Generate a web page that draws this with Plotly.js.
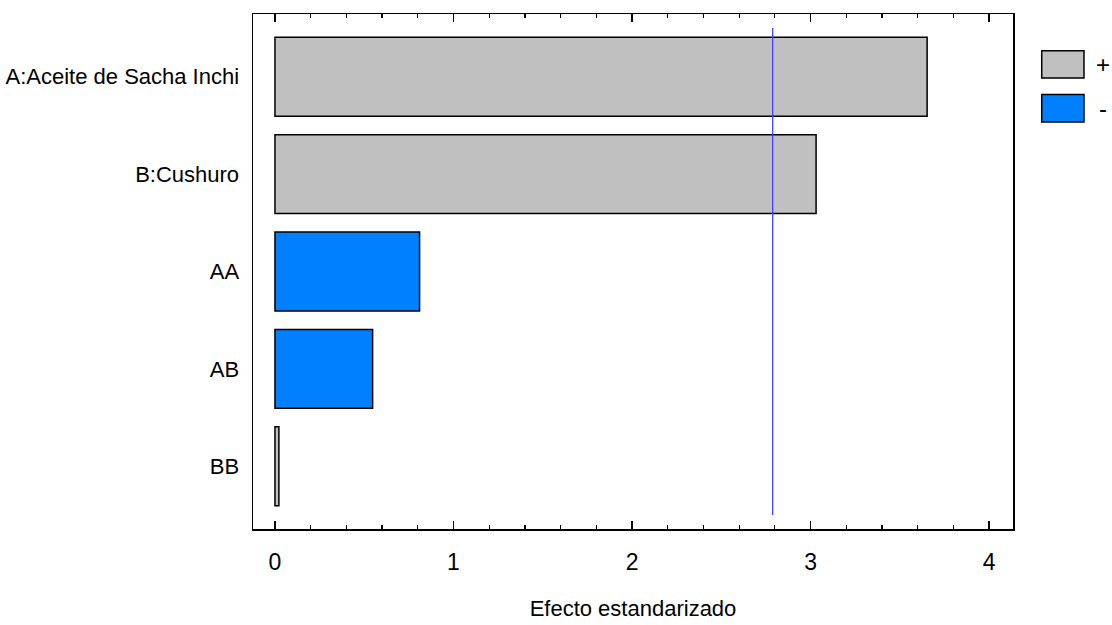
<!DOCTYPE html>
<html>
<head>
<meta charset="utf-8">
<script src="https://cdn.plot.ly/plotly-3.0.1.min.js"></script>
<style>html,body{margin:0;padding:0;background:#fff}#chart{width:1112px;height:625px}</style>
</head>
<body>
<div id="chart"></div>
<script>
var categories = ["A:Aceite de Sacha Inchi", "B:Cushuro", "AA", "AB", "BB"];
var effects = [3.653, 3.031, 0.81, 0.547, 0.022];
var signs = ["+", "+", "-", "-", "+"];
var criticalValue = 2.788;
var xTickVals = [0, 1, 2, 3, 4];
var legendLabels = ["+", "-"];

var posColor = "#c0c0c0", negColor = "#0080ff";
var FONT = "'Liberation Sans Narrow', 'Arial Narrow', 'Liberation Sans', Arial, sans-serif";
var idx = categories.map(function(_, i){ return i; });

var trace = {
  type: "bar", orientation: "h",
  x: effects, y: idx,
  width: 0.81,
  marker: {
    color: signs.map(function(s){ return s === "+" ? posColor : negColor; }),
    line: {color: "#000", width: 1.5}
  },
  hoverinfo: "x+text", text: categories, textposition: "none",
  showlegend: false
};

var layout = {
  width: 1112, height: 625,
  margin: {l: 253, r: 99, t: 14, b: 96},
  paper_bgcolor: "#fff", plot_bgcolor: "#fff",
  font: {family: FONT, size: 22, color: "#000"},
  showlegend: false,
  xaxis: {
    range: [-0.123, 4.134],
    tickvals: xTickVals, ticktext: xTickVals.map(String),
    ticks: "inside", ticklen: 8, tickwidth: 1.5, tickcolor: "#000",
    minor: {dtick: 0.2, tick0: 0, ticks: "inside", ticklen: 4, tickwidth: 1.2, tickcolor: "#000", showgrid: false},
    showgrid: false, zeroline: false,
    showline: true, linecolor: "#000", linewidth: 1.5, mirror: "allticks",
    tickfont: {family: FONT, size: 23, color: "#000"},
    ticklabelstandoff: 12,
    title: {text: "Efecto estandarizado", font: {family: FONT, size: 22, color: "#000"}, standoff: 26}
  },
  yaxis: {
    range: [4.645, -0.645],
    tickvals: idx, ticktext: categories,
    ticks: "", showgrid: false, zeroline: false,
    showline: true, linecolor: "#000", linewidth: 1.5, mirror: true,
    tickfont: {family: FONT, size: 22, color: "#000"},
    ticklabelstandoff: 8
  },
  shapes: [
    {type: "line", xref: "x", yref: "y", x0: criticalValue, x1: criticalValue, y0: -0.5, y1: 4.5,
     line: {color: "#3838ff", width: 1.2}},
    {type: "rect", xref: "paper", yref: "paper", x0: 1.0378, x1: 1.0934, y0: 0.8757, y1: 0.9287,
     fillcolor: posColor, line: {color: "#000", width: 1.5}},
    {type: "rect", xref: "paper", yref: "paper", x0: 1.0378, x1: 1.0934, y0: 0.7903, y1: 0.8437,
     fillcolor: negColor, line: {color: "#000", width: 1.5}}
  ],
  annotations: [
    {xref: "paper", yref: "paper", x: 1.1184, y: 0.902, text: legendLabels[0], showarrow: false,
     xanchor: "center", yanchor: "middle", font: {family: "Liberation Sans, Arial", size: 24, color: "#000"}},
    {xref: "paper", yref: "paper", x: 1.1184, y: 0.817, text: legendLabels[1], showarrow: false,
     xanchor: "center", yanchor: "middle", font: {family: "Liberation Sans, Arial", size: 24, color: "#000"}}
  ]
};

Plotly.newPlot("chart", [trace], layout, {displayModeBar: false, staticPlot: true});
</script>
</body>
</html>
